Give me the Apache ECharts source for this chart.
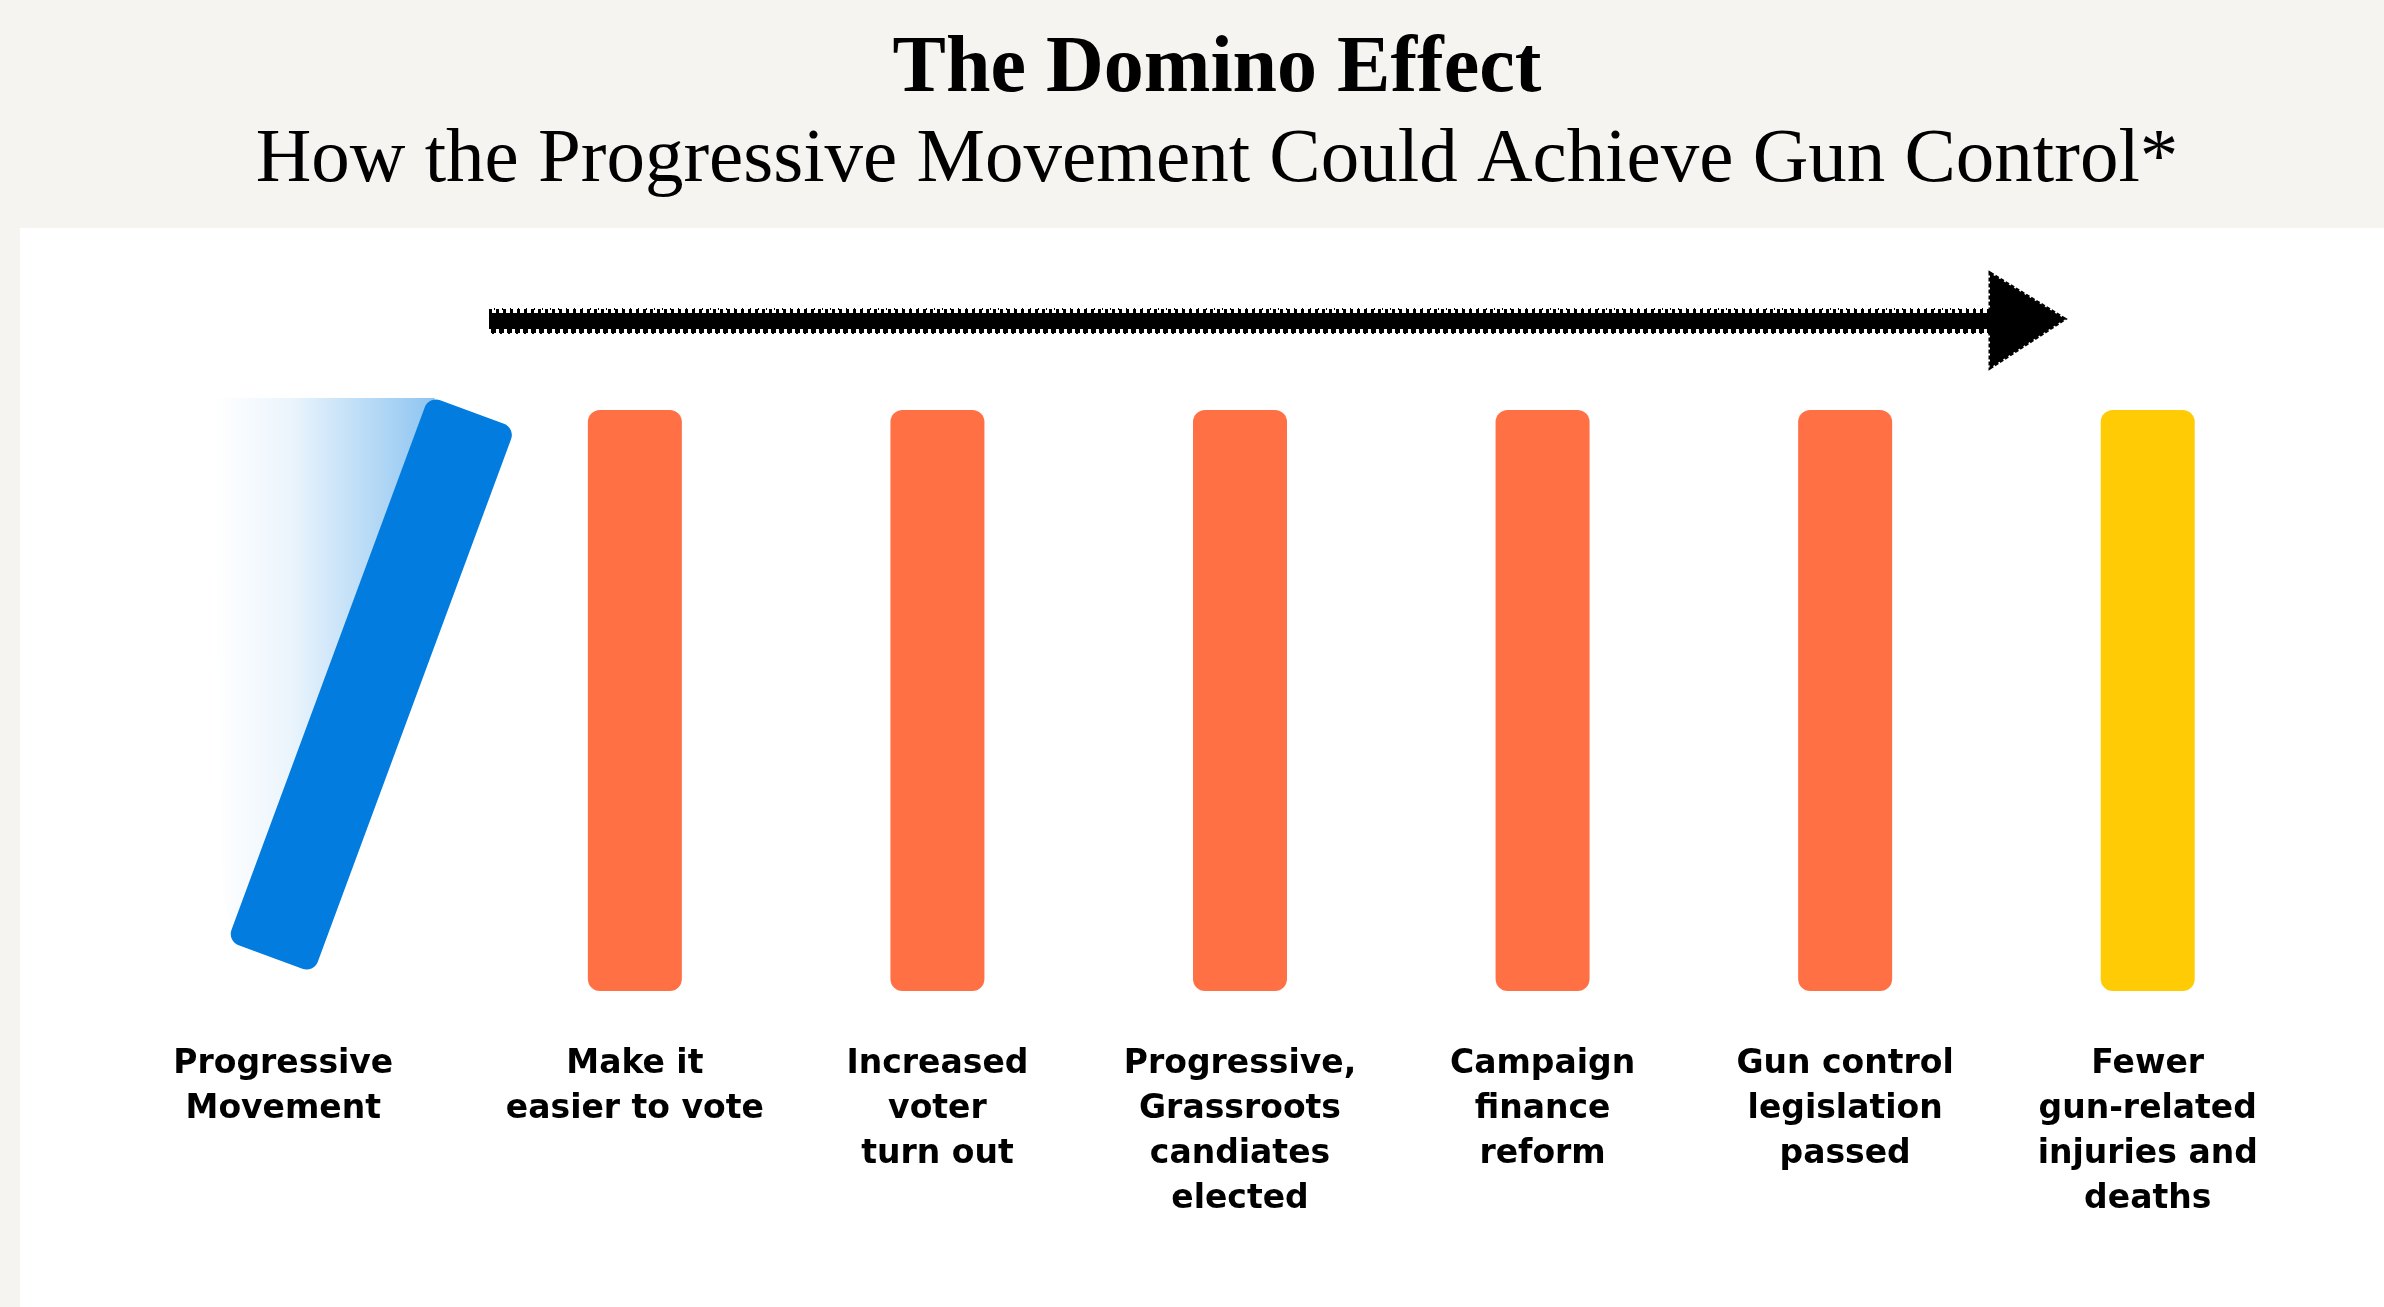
<!DOCTYPE html>
<html>
<head>
<meta charset="utf-8">
<script src="https://cdn.jsdelivr.net/npm/echarts@6/dist/echarts.min.js"></script>
<style>
  html, body { margin: 0; padding: 0; background: #f5f4f0; }
  #chart { width: 2384px; height: 1307px; }
</style>
</head>
<body>
<div id="chart"></div>
<script>
// ---- data ----
const categories = [
  'Progressive\nMovement',
  'Make it\neasier to vote',
  'Increased\nvoter\nturn out',
  'Progressive,\nGrassroots\ncandiates\nelected',
  'Campaign\nfinance\nreform',
  'Gun control\nlegislation\npassed',
  'Fewer\ngun-related\ninjuries and\ndeaths'
];
const dominoHeight = [1, 1, 1, 1, 1, 1, 1];
const fallen = [true, false, false, false, false, false, false];
const titleText = 'The Domino Effect';
const subtitleText = 'How the Progressive Movement Could Achieve Gun Control*';

// ---- styles ----
const BLUE = '#027ddf';
const ORANGE = '#ff7145';
const YELLOW = '#ffcb05';
const fallenAngle = 20.3; // degrees
const BAR_W = 92;

const chart = echarts.init(document.getElementById('chart'), null, { renderer: 'canvas' });

const lastIdx = categories.length - 1;
const barData = categories.map((c, i) => fallen[i] ? '-' : {
  value: dominoHeight[i],
  itemStyle: { color: i === lastIdx ? YELLOW : ORANGE }
});
const fallenData = categories.map((c, i) => fallen[i] ? [i, dominoHeight[i]] : null).filter(Boolean);

const xData = categories.map((c, i) => i === 0
  ? { value: c, textStyle: { padding: [0, 98, 0, 0] } }
  : c);

const arrowY = 321;
const arrowX0 = 489, arrowX1 = 1993, tipX = 2065;

chart.setOption({
  backgroundColor: '#f5f4f0',
  animation: false,
  grid: { left: 181, right: 85, top: 410, bottom: 316, containLabel: false },
  xAxis: {
    type: 'category',
    data: xData,
    axisLine: { show: false },
    axisTick: { show: false },
    axisLabel: {
      interval: 0,
      margin: 51,
      verticalAlign: 'top',
      fontFamily: 'DejaVu Sans',
      fontWeight: 'bold',
      fontSize: 33,
      lineHeight: 45,
      color: '#000'
    }
  },
  yAxis: { type: 'value', min: 0, max: 1, show: false },
  graphic: [
    { type: 'rect', z: 0, shape: { x: 20, y: 228, width: 2364, height: 1079 }, style: { fill: '#ffffff' } },
    { type: 'text', z: 5, x: 1217, y: 70, style: {
        text: titleText, font: 'bold 80px "Liberation Serif"', fill: '#000',
        textAlign: 'center', textVerticalAlign: 'middle' } },
    { type: 'text', z: 5, x: 1217, y: 161, style: {
        text: subtitleText, font: '77px "Liberation Serif"', fill: '#000',
        textAlign: 'center', textVerticalAlign: 'middle' } },
    // arrow (hand-drawn look)
    { type: 'rect', z: 5, shape: { x: arrowX0, y: arrowY - 8, width: arrowX1 - arrowX0, height: 16 }, style: { fill: '#000' } },
    { type: 'line', z: 5, shape: { x1: arrowX0, y1: arrowY - 10, x2: arrowX1, y2: arrowY - 10 }, style: { stroke: '#000', lineWidth: 4, lineDash: [3, 4] } },
    { type: 'line', z: 5, shape: { x1: arrowX0 + 2, y1: arrowY + 10, x2: arrowX1, y2: arrowY + 10 }, style: { stroke: '#000', lineWidth: 4, lineDash: [5, 3] } },
    { type: 'line', z: 5, shape: { x1: arrowX0 + 5, y1: arrowY - 12, x2: arrowX1, y2: arrowY - 12 }, style: { stroke: '#000', lineWidth: 2, lineDash: [1, 7] } },
    { type: 'line', z: 5, shape: { x1: arrowX0 + 3, y1: arrowY + 12, x2: arrowX1, y2: arrowY + 12 }, style: { stroke: '#000', lineWidth: 2, lineDash: [2, 6] } },
    { type: 'polygon', z: 5, shape: { points: [[arrowX1 - 3, 273], [tipX, arrowY - 2], [arrowX1 - 3, 368]] }, style: { fill: '#000', stroke: '#000', lineWidth: 3, lineDash: [4, 2] } }
  ],
  series: [
    {
      type: 'bar',
      data: barData,
      barWidth: 94,
      itemStyle: { borderRadius: 12 },
      z: 3
    },
    {
      type: 'custom',
      data: fallenData,
      z: 3,
      renderItem: function (params, api) {
        const base = api.coord([api.value(0), 0]);
        const top = api.coord([api.value(0), api.value(1)]);
        const h = base[1] - top[1];
        const w = BAR_W;
        const a = fallenAngle * Math.PI / 180;
        const cx = base[0] + 39;
        const cy = (base[1] + top[1]) / 2 - 16;
        const ux = Math.sin(a), uy = -Math.cos(a);
        const vx = Math.cos(a), vy = Math.sin(a);
        const T = [cx + ux * h / 2 - vx * w / 2, cy + uy * h / 2 - vy * w / 2];
        const B = [cx - ux * h / 2 - vx * w / 2, cy - uy * h / 2 - vy * w / 2];
        return {
          type: 'group',
          children: [
            {
              type: 'polygon',
              shape: { points: [[T[0] - 216, T[1] + 2], [T[0] + 6, T[1] + 2], [B[0] + 8, B[1] - 6], [B[0] - 4, B[1] - 40]] },
              style: {
                fill: new echarts.graphic.LinearGradient(0, 0, 1, 0, [
                  { offset: 0, color: 'rgba(2,125,223,0)' },
                  { offset: 0.35, color: 'rgba(2,125,223,0.08)' },
                  { offset: 1, color: 'rgba(2,125,223,0.45)' }
                ])
              }
            },
            {
              type: 'rect',
              x: cx, y: cy, rotation: -a,
              shape: { x: -w / 2, y: -h / 2, width: w, height: h, r: 12 },
              style: { fill: BLUE }
            }
          ]
        };
      }
    }
  ]
});
</script>
</body>
</html>
